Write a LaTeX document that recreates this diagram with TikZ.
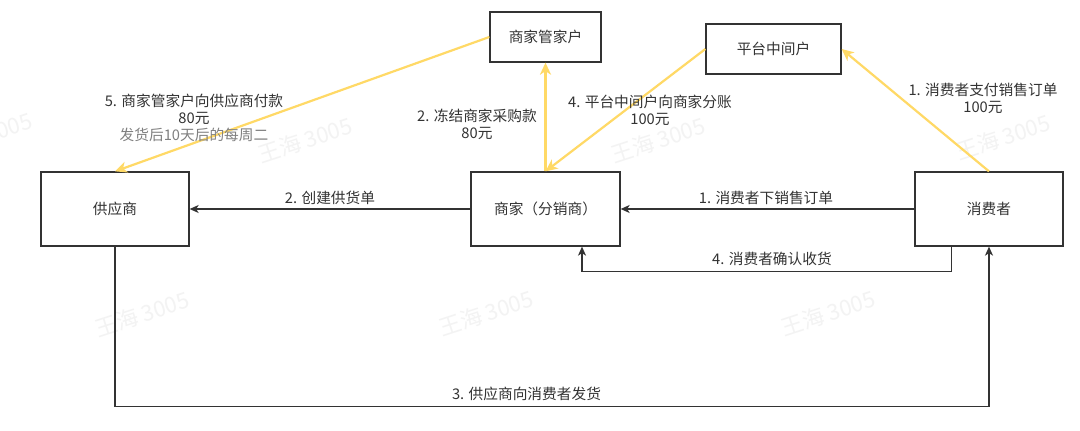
\documentclass[tikz,border=0pt]{standalone}
\usepackage{fontspec}
\setmainfont{Noto Sans CJK SC}
\newfontfamily\cjk{Noto Sans CJK SC}
\usetikzlibrary{arrows.meta}
\definecolor{linec}{HTML}{333333}
\definecolor{txtc}{HTML}{333333}
\definecolor{yel}{HTML}{FFD966}
\definecolor{graytxt}{HTML}{808080}
\definecolor{wmc}{HTML}{F3F3F3}
\begin{document}
\begin{tikzpicture}[x=1pt,y=-1pt,
  box/.style={draw=linec, line width=1.3pt, fill=white, inner sep=0pt, text=txtc,
    font=\cjk\fontsize{14.7}{17}\selectfont},
  blk/.style={draw=linec, line width=1.3pt, -{Stealth[length=9pt,width=8pt,inset=2.5pt]}},
  yelarr/.style={draw=yel, line width=2.2pt, -{Stealth[length=12pt,width=11pt,inset=3.5pt]}},
  lbl/.style={text=txtc, font=\cjk\fontsize{14.7}{17}\selectfont, align=center, inner sep=0pt},
  wm/.style={text=wmc, font=\cjk\fontsize{22}{24}\selectfont, rotate=18, inner sep=0pt}]
\useasboundingbox[fill=white] (0,0) rectangle (1080,431);
% watermarks
\node[wm] (w1) at (-15,135) {王海 3005};
\node[wm] (w2) at (305,140) {王海 3005};
\node[wm] (w3) at (658,140) {王海 3005};
\node[wm] (w4) at (1003,137) {王海 3005};
\node[wm] (w5) at (142,314) {王海 3005};
\node[wm] (w6) at (486,313) {王海 3005};
\node[wm] (w7) at (828,313) {王海 3005};
% boxes
\node[box, minimum width=148pt, minimum height=74pt] (sup) at (115,209) {供应商};
\node[box, minimum width=149pt, minimum height=74pt] (mer) at (545.5,209) {商家（分销商）};
\node[box, minimum width=148pt, minimum height=74pt] (con) at (989,209) {消费者};
\node[box, minimum width=111pt, minimum height=50pt] (mgr) at (545.5,37) {商家管家户};
\node[box, minimum width=135pt, minimum height=50pt] (plat) at (773.5,49) {平台中间户};
% black connectors
\draw[blk] (con.west) -- (mer.east);
\draw[blk] (mer.west) -- (sup.east);
\draw[blk] ([xshift=-37.3pt]con.south) -- ++(0,24.7) -| ([xshift=36.5pt]mer.south);
\draw[blk] (sup.south) -- ++(0,160) -| (con.south);
% yellow connectors
\draw[yelarr] (mer.north) -- (mgr.south);
\draw[yelarr] (plat.west) -- (mer.north);
\draw[yelarr] (con.north) -- (plat.east);
\draw[yelarr] (mgr.west) -- (sup.north);
% labels
\node[lbl] (l1) at (766,198) {1. 消费者下销售订单};
\node[lbl] (l2) at (330,198) {2. 创建供货单};
\node[lbl] (l4) at (772,259) {4. 消费者确认收货};
\node[lbl] (l3) at (526.5,394) {3. 供应商向消费者发货};
\node[lbl] (y2) at (477,124) {2. 冻结商家采购款\\80元};
\node[lbl] (y4) at (650,110) {4. 平台中间户向商家分账\\100元};
\node[lbl] (y1) at (983,98) {1. 消费者支付销售订单\\100元};
\node[lbl] (y5) at (194,118) {5. 商家管家户向供应商付款\\80元\\\textcolor{graytxt}{发货后10天后的每周二}};
\end{tikzpicture}
\end{document}
